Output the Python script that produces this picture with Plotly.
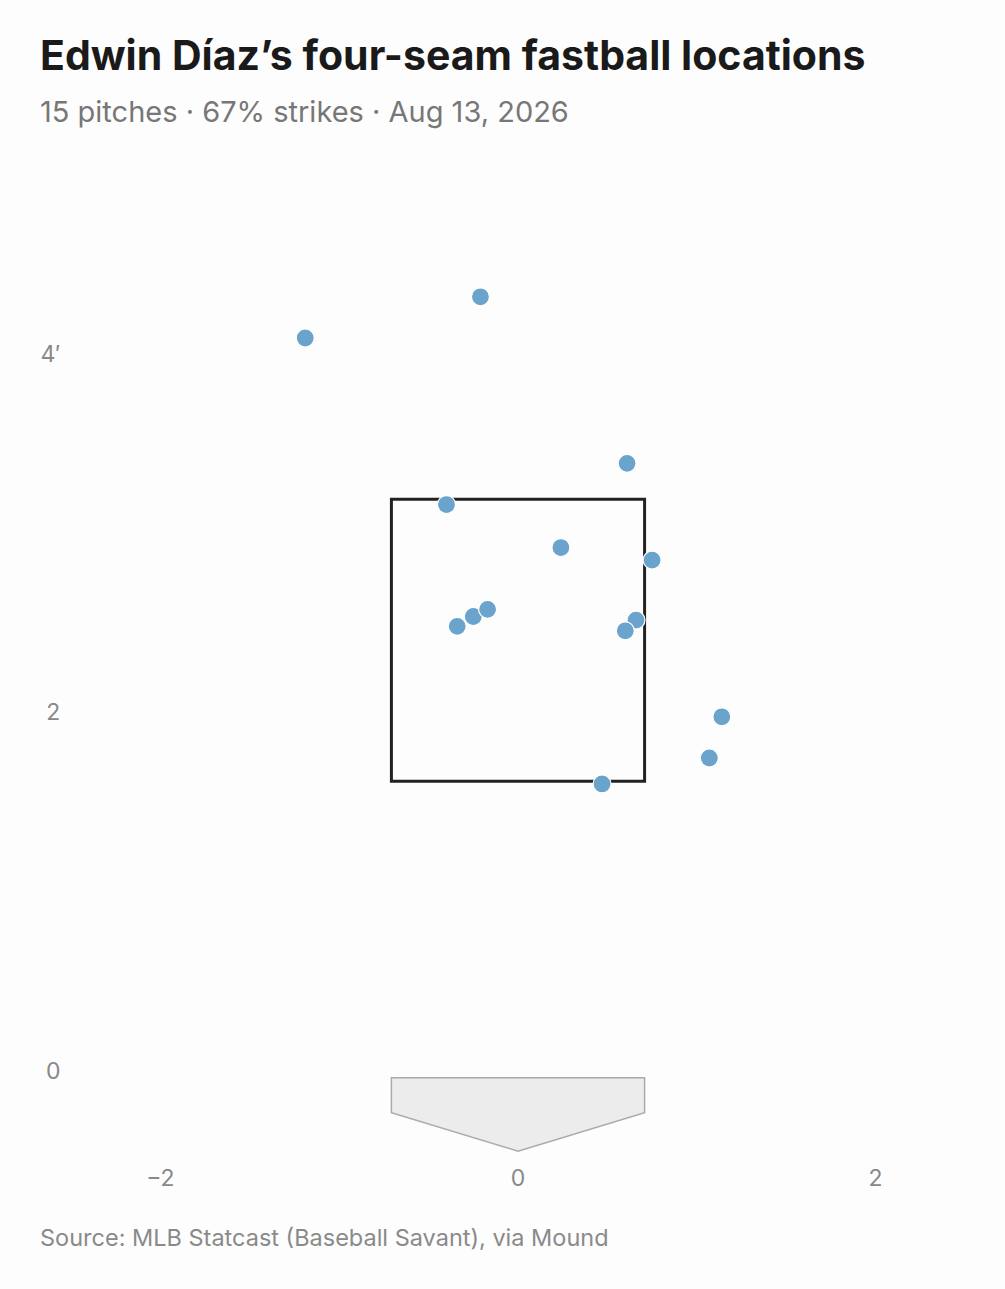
import plotly.graph_objects as go

# Pitch locations (feet): horizontal plate_x, vertical plate_z
plate_x = [-1.19, -0.21, 0.61, -0.40, 0.24, 0.75, -0.34, -0.25, -0.17, 0.66, 0.60, 1.14, 1.07, 0.47]
plate_z = [4.09, 4.32, 3.39, 3.16, 2.92, 2.85, 2.48, 2.535, 2.575, 2.515, 2.455, 1.975, 1.745, 1.60]

x_tick_vals = [-2, 0, 2]
x_tick_text = ["\u22122", "0", "2"]
y_tick_vals = [0, 2, 4]
y_tick_text = ["0", "2", "4\u2032"]

title = "Edwin Díaz’s four-seam fastball locations"
subtitle = "15 pitches · 67% strikes · Aug 13, 2026"
source = "Source: MLB Statcast (Baseball Savant), via Mound"

zone_half_width = 0.708
zone_bottom = 1.615
zone_top = 3.19

plate_top = -0.04
plate_side = -0.235
plate_tip = -0.45

FONT = "Inter"
BG = "#fdfdfd"

W, H = 1005, 1289
ML, MR, MT, MB = 71, 40, 175, 137

fig = go.Figure()

fig.add_trace(go.Scatter(
    x=plate_x, y=plate_z, mode="markers",
    marker=dict(size=18, color="#6aa3cb", line=dict(color="white", width=1.2)),
    hoverinfo="x+y", showlegend=False, cliponaxis=False,
))

# strike zone
fig.add_shape(type="rect", xref="x", yref="y",
              x0=-zone_half_width, x1=zone_half_width, y0=zone_bottom, y1=zone_top,
              line=dict(color="#222222", width=3), fillcolor="rgba(0,0,0,0)", layer="below")

# home plate
hw = zone_half_width
path = (f"M {-hw},{plate_top} L {hw},{plate_top} L {hw},{plate_side} "
        f"L 0,{plate_tip} L {-hw},{plate_side} Z")
fig.add_shape(type="path", xref="x", yref="y", path=path,
              line=dict(color="#aaaaaa", width=1.5), fillcolor="#ececec", layer="below")

fig.update_layout(
    width=W, height=H,
    paper_bgcolor=BG, plot_bgcolor=BG,
    margin=dict(l=ML, r=MR, t=MT, b=MB),
    font=dict(family=FONT, color="#888888", size=23),
    xaxis=dict(range=[-2.5, 2.5], tickvals=x_tick_vals, ticktext=x_tick_text,
               showgrid=False, zeroline=False, showline=False,
               ticks="outside", ticklen=5, tickcolor="rgba(0,0,0,0)",
               tickfont=dict(size=23, color="#888888")),
    yaxis=dict(range=[-0.455, 5.0], tickvals=y_tick_vals, ticktext=y_tick_text,
               showgrid=False, zeroline=False, showline=False,
               ticks="outside", ticklen=5, tickcolor="rgba(0,0,0,0)",
               tickfont=dict(size=23, color="#888888")),
    showlegend=False,
)

fig.add_annotation(text=title, xref="paper", yref="paper", x=0, y=0,
                   xanchor="left", yanchor="middle", showarrow=False,
                   font=dict(family=FONT, size=41, color="#1a1a1a", weight=700))
fig.add_annotation(text=subtitle, xref="paper", yref="paper", x=0, y=0,
                   xanchor="left", yanchor="middle", showarrow=False,
                   font=dict(family=FONT, size=29, color="#777777"))
fig.add_annotation(text=source, xref="paper", yref="paper", x=0, y=0,
                   xanchor="left", yanchor="middle", showarrow=False,
                   font=dict(family=FONT, size=23.5, color="#8a8a8a"))

# position annotations in pixel terms relative to paper
plot_h = H - MT - MB
plot_w = W - ML - MR
def px_to_paper(px, py):
    return (px - ML) / plot_w, (H - MB - py) / plot_h

for ann, (px, py) in zip(fig.layout.annotations, [(38, 55), (38, 112), (38, 1237)]):
    ax, ay = px_to_paper(px, py)
    ann.x = ax
    ann.y = ay

fig.write_html("out.html", config={"displayModeBar": False},
               post_script="document.body.style.margin='0';document.body.style.background='#fdfdfd';")
